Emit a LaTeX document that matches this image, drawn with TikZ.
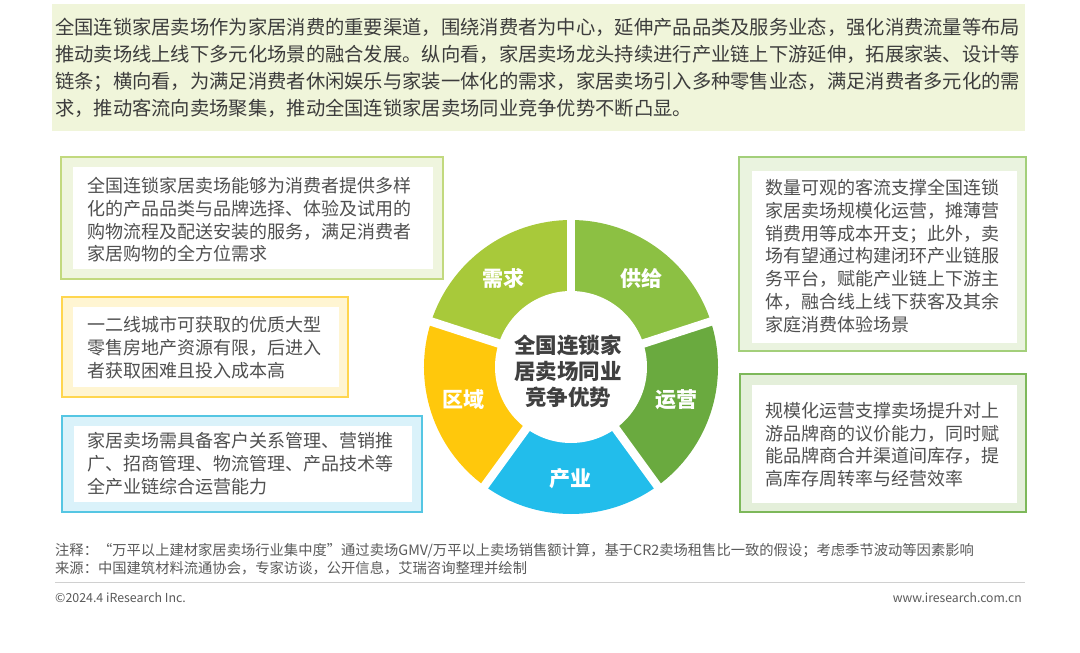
\documentclass[tikz,border=0pt]{standalone}
\usepackage{fontspec}
\setmainfont{Noto Sans CJK SC}
\definecolor{bannerbg}{HTML}{F0F5DA}
\definecolor{bannertext}{HTML}{3C3C3C}
\definecolor{boxtext}{HTML}{505050}
\definecolor{footgray}{HTML}{5A5A5A}
\definecolor{lineGray}{HTML}{D0D0D0}
\definecolor{bdA}{HTML}{C2D97E}\definecolor{bgA}{HTML}{EFF5DE}
\definecolor{bdB}{HTML}{FFD64F}\definecolor{bgB}{HTML}{FFF5D2}
\definecolor{bdC}{HTML}{55C6E3}\definecolor{bgC}{HTML}{DAF2FA}
\definecolor{bdD}{HTML}{A3CF7A}\definecolor{bgD}{HTML}{EAF3DF}
\definecolor{bdE}{HTML}{7DB85A}\definecolor{bgE}{HTML}{E4EFDA}
\definecolor{cNeed}{HTML}{A8C93A}
\definecolor{cSupply}{HTML}{8CC043}
\definecolor{cOps}{HTML}{6AAA3F}
\definecolor{cInd}{HTML}{22BDEB}
\definecolor{cReg}{HTML}{FFC80C}
\definecolor{coretext}{HTML}{404040}
\tikzset{
  boxtxt/.style={anchor=north west, inner sep=0pt, align=left, text=boxtext,
    font=\fontsize{18}{22.8}\selectfont},
  seglabel/.style={inner sep=0pt, text=white, font=\fontsize{21}{24}\selectfont\bfseries},
  foot/.style={inner sep=0pt, text=footgray},
}
\begin{document}
\begin{tikzpicture}[x=1pt,y=-1pt]
\useasboundingbox (0,0) rectangle (1080,653);
\fill[white] (0,0) rectangle (1080,653);
% banner
\fill[bannerbg] (52,4) rectangle (1025,131);
\node[anchor=north west, inner sep=0pt, align=left, text=bannertext,
  font=\fontsize{19.3}{27}\selectfont] (intro) at (55,17.5)
  {全国连锁家居卖场作为家居消费的重要渠道，围绕消费者为中心，延伸产品品类及服务业态，强化消费流量等布局\\
   推动卖场线上线下多元化场景的融合发展。纵向看，家居卖场龙头持续进行产业链上下游延伸，拓展家装、设计等\\
   链条；横向看，为满足消费者休闲娱乐与家装一体化的需求，家居卖场引入多种零售业态，满足消费者多元化的需\\
   求，推动客流向卖场聚集，推动全国连锁家居卖场同业竞争优势不断凸显。};
% box 1
\filldraw[draw=bdA, fill=bgA, line width=1.5pt] (61,157) rectangle (443,279);
\fill[white] (73,167) rectangle (433,269);
\node[boxtxt] (t1) at (87,177)
  {全国连锁家居卖场能够为消费者提供多样\\化的产品品类与品牌选择、体验及试用的\\购物流程及配送安装的服务，满足消费者\\家居购物的全方位需求};
% box 2
\filldraw[draw=bdB, fill=bgB, line width=1.5pt] (62,297) rectangle (348,397);
\fill[white] (73,307) rectangle (339,387);
\node[boxtxt] (t2) at (87,316)
  {一二线城市可获取的优质大型\\零售房地产资源有限，后进入\\者获取困难且投入成本高};
% box 3
\filldraw[draw=bdC, fill=bgC, line width=1.5pt] (62,416) rectangle (422,512);
\fill[white] (74,426) rectangle (412,502);
\node[boxtxt] (t3) at (87,432)
  {家居卖场需具备客户关系管理、营销推\\广、招商管理、物流管理、产品技术等\\全产业链综合运营能力};
% box 4
\filldraw[draw=bdD, fill=bgD, line width=1.5pt] (739,157) rectangle (1026,351);
\fill[white] (752,171) rectangle (1017,343);
\node[boxtxt] (t4) at (765,179)
  {数量可观的客流支撑全国连锁\\家居卖场规模化运营，摊薄营\\销费用等成本开支；此外，卖\\场有望通过构建闭环产业链服\\务平台，赋能产业链上下游主\\体，融合线上线下获客及其余\\家庭消费体验场景};
% box 5
\filldraw[draw=bdE, fill=bgE, line width=1.5pt] (740,374) rectangle (1026,512);
\fill[white] (752,385) rectangle (1017,503);
\node[boxtxt] (t5) at (765,402)
  {规模化运营支撑卖场提升对上\\游品牌商的议价能力，同时赋\\能品牌商合并渠道间库存，提\\高库存周转率与经营效率};
% ring
\begin{scope}[shift={(571,367)}]
\begin{scope}[y=1pt]
\foreach \a/\b/\c in {90/162/cNeed, 18/90/cSupply, -54/18/cOps, -126/-54/cInd, 162/234/cReg}
  \fill[\c] (0,0) -- (\a:147) arc[start angle=\a, end angle=\b, radius=147] -- cycle;
\foreach \a in {90,18,-54,-126,162}
  \draw[white, line width=8.5pt] (0,0) -- (\a:160);
\fill[white] (0,0) circle[radius=76];
\end{scope}
\end{scope}
\node[seglabel] (need) at (503,278) {需求};
\node[seglabel] (supply) at (641,278) {供给};
\node[seglabel] (ops) at (676,400) {运营};
\node[seglabel] (ind) at (570,479) {产业};
\node[seglabel] (reg) at (463,400) {区域};
\node[inner sep=0pt, align=center, text=coretext, font=\fontsize{21.5}{26}\selectfont\bfseries]
  (core) at (568,371) {全国连锁家\\居卖场同业\\竞争优势};
% footer
\node[foot, anchor=west, font=\fontsize{14.3}{16}\selectfont] (note) at (55,551)
  {注释：“万平以上建材家居卖场行业集中度”通过卖场GMV/万平以上卖场销售额计算，基于CR2卖场租售比一致的假设；考虑季节波动等因素影响};
\node[foot, anchor=west, font=\fontsize{14.3}{16}\selectfont] (src) at (55,568)
  {来源：中国建筑材料流通协会，专家访谈，公开信息，艾瑞咨询整理并绘制};
\coordinate (ruleL) at (55,582);
\coordinate (ruleR) at (1025,582);
\draw[lineGray, line width=0.8pt] (ruleL) -- (ruleR);
\node[foot, anchor=west, font=\fontsize{12.4}{14}\selectfont] (copy) at (55,598) {©2024.4 iResearch Inc.};
\node[foot, anchor=east, font=\fontsize{12.2}{14}\selectfont] (url) at (1022,598) {www.iresearch.com.cn};
\end{tikzpicture}
\end{document}
